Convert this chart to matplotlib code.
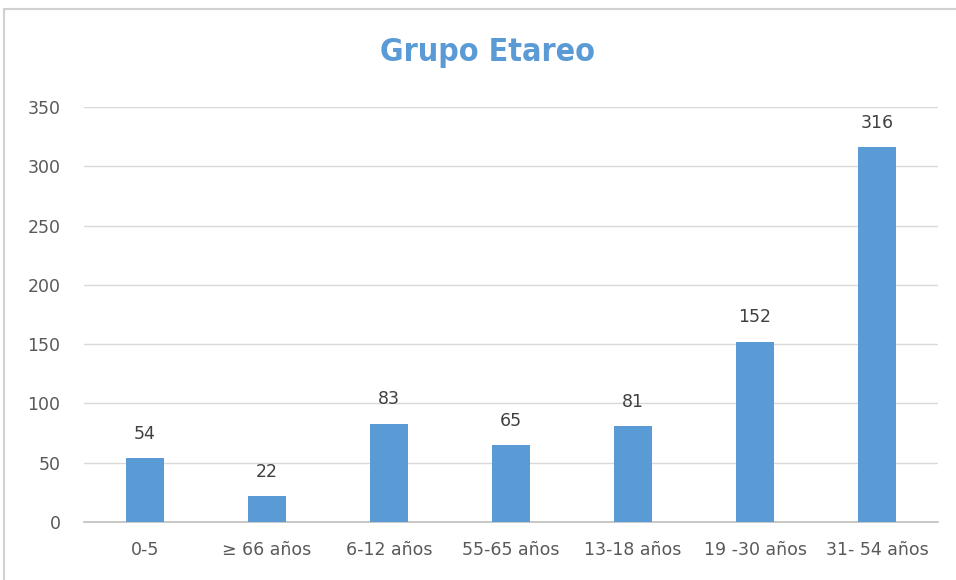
import matplotlib
matplotlib.use("Agg")
import matplotlib.pyplot as plt
from matplotlib.patches import Rectangle
from matplotlib import font_manager

categories = ["0-5", "≥ 66 años", "6-12 años", "55-65 años", "13-18 años", "19 -30 años", "31- 54 años"]
values = [54, 22, 83, 65, 81, 152, 316]
yticks = [0, 50, 100, 150, 200, 250, 300, 350]

W, H = 956, 580
fig = plt.figure(figsize=(W / 100, H / 100), dpi=100)

# outer chart frame (cropped screenshot)
fig.patches.append(Rectangle((4 / W, -0.1), 1.2, (H - 9) / H + 0.1, transform=fig.transFigure,
                             fill=False, edgecolor="#D0D0D0", linewidth=1.5))

ax = fig.add_axes([84 / W, 1 - 522 / H, (938 - 84) / W, (522 - 107) / H])
x = list(range(len(categories)))
ax.bar(x, values, width=0.31, color="#5B9BD5", zorder=3)
ax.set_xlim(-0.5, len(categories) - 0.5)
ax.set_ylim(0, 350)
ax.set_yticks(yticks)
ax.set_xticks(x)
ax.set_xticklabels(categories)

for lbl in ax.get_xticklabels() + ax.get_yticklabels():
    lbl.set_fontsize(12.5)
    lbl.set_color("#595959")

ax.tick_params(axis="both", length=0)
ax.tick_params(axis="y", pad=17)
ax.tick_params(axis="x", pad=14)
ax.grid(axis="y", color="#D9D9D9", linewidth=1, zorder=0)
for s in ["top", "right", "left"]:
    ax.spines[s].set_visible(False)
ax.spines["bottom"].set_color("#BFBFBF")
ax.spines["bottom"].set_linewidth(1.2)

for xi, v in zip(x, values):
    ax.annotate(str(v), (xi, v), xytext=(0, 11), textcoords="offset points",
                ha="center", va="bottom", fontsize=12.5, color="#404040")

avail = {f.name for f in font_manager.fontManager.ttflist}
if "Liberation Sans Narrow" in avail:
    tfam, tsize = "Liberation Sans Narrow", 24
else:
    tfam, tsize = "DejaVu Sans", 23
fig.text(487 / W, 1 - 52 / H, "Grupo Etareo", ha="center", va="center", fontsize=tsize,
         fontweight="bold", color="#5B9BD5", family=tfam, fontstretch="condensed")

fig.savefig("out.png", dpi=100)
